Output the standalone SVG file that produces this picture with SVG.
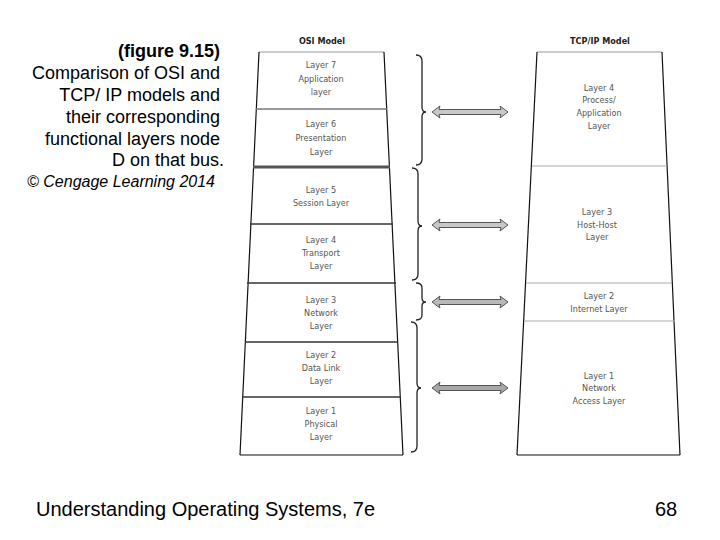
<svg xmlns="http://www.w3.org/2000/svg" width="720" height="540" viewBox="0 0 720 540">
<style>
.cap{font-family:"Liberation Sans",Arial,sans-serif;font-size:18px;fill:#000;text-anchor:end}
.copy{font-size:16px;font-style:italic}
.lay{font-family:"DejaVu Sans Condensed","DejaVu Sans",sans-serif;font-size:9px;fill:#555;text-anchor:middle}
.hd{font-family:"DejaVu Sans Condensed","DejaVu Sans",sans-serif;font-size:9px;font-weight:bold;fill:#222;text-anchor:middle}
.side{fill:none;stroke:#111;stroke-width:1.2}
.top{stroke:#999;stroke-width:1}
.div{stroke:#333;stroke-width:1.5}
.tdiv{stroke:#aaa;stroke-width:1}
.brace{fill:none;stroke:#222;stroke-width:1.3}
.arr{fill:#c8c8c8;stroke:#555;stroke-width:1}
.foot{font-family:"Liberation Sans",Arial,sans-serif;font-size:20px;fill:#000}
</style>
<rect width="720" height="540" fill="#fff"/>

<g id="caption">
<text class="cap" x="220" y="57" font-weight="bold">(figure 9.15)</text>
<text class="cap" x="220" y="79">Comparison of OSI and</text>
<text class="cap" x="220" y="101">TCP/ IP models and</text>
<text class="cap" x="220" y="123">their corresponding</text>
<text class="cap" x="220" y="145">functional layers node</text>
<text class="cap" x="224" y="166">D on that bus.</text>
<text class="cap copy" x="215" y="187">© Cengage Learning 2014</text>
</g>

<g id="osi-model">
<text class="hd" x="322" y="44">OSI Model</text>
<line class="top" x1="259" y1="52" x2="384" y2="52"/>
<line class="side" x1="259" y1="52" x2="240" y2="455"/>
<line class="side" x1="384" y1="52" x2="403" y2="455"/>
<line class="side" x1="240" y1="455" x2="403" y2="455"/>
<line x1="256" y1="109" x2="387" y2="109" stroke="#777" stroke-width="1.5"/>
<line x1="253" y1="167" x2="390" y2="167" stroke="#555" stroke-width="3"/>
<line class="div" x1="250" y1="224" x2="393" y2="224"/>
<line class="div" x1="247" y1="283" x2="396" y2="283"/>
<line class="div" x1="245" y1="342" x2="398" y2="342"/>
<line class="div" x1="242" y1="397" x2="400" y2="397"/>
</g>
<g id="osi-layer7">
<text class="lay" x="321" y="68">Layer 7</text>
<text class="lay" x="321" y="82">Application</text>
<text class="lay" x="321" y="95">layer</text>
</g>
<g id="osi-layer6">
<text class="lay" x="321" y="127">Layer 6</text>
<text class="lay" x="321" y="141">Presentation</text>
<text class="lay" x="321" y="155">Layer</text>
</g>
<g id="osi-layer5">
<text class="lay" x="321" y="193">Layer 5</text>
<text class="lay" x="321" y="206">Session Layer</text>
</g>
<g id="osi-layer4">
<text class="lay" x="321" y="243">Layer 4</text>
<text class="lay" x="321" y="256">Transport</text>
<text class="lay" x="321" y="269">Layer</text>
</g>
<g id="osi-layer3">
<text class="lay" x="321" y="303">Layer 3</text>
<text class="lay" x="321" y="316">Network</text>
<text class="lay" x="321" y="329">Layer</text>
</g>
<g id="osi-layer2">
<text class="lay" x="321" y="358">Layer 2</text>
<text class="lay" x="321" y="371">Data Link</text>
<text class="lay" x="321" y="384">Layer</text>
</g>
<g id="osi-layer1">
<text class="lay" x="321" y="414">Layer 1</text>
<text class="lay" x="321" y="427">Physical</text>
<text class="lay" x="321" y="440">Layer</text>
</g>

<g id="tcpip-model">
<text class="hd" x="600" y="44">TCP/IP Model</text>
<line class="top" x1="537" y1="52" x2="662" y2="52"/>
<line class="side" x1="537" y1="52" x2="517" y2="455"/>
<line class="side" x1="662" y1="52" x2="680" y2="455"/>
<line class="side" x1="517" y1="455" x2="680" y2="455"/>
<line class="tdiv" x1="532" y1="166" x2="667" y2="166"/>
<line class="tdiv" x1="526" y1="283" x2="672" y2="283"/>
<line class="tdiv" x1="524" y1="321" x2="675" y2="321"/>
</g>
<g id="tcpip-layer4">
<text class="lay" x="599" y="91">Layer 4</text>
<text class="lay" x="599" y="103">Process/</text>
<text class="lay" x="599" y="116">Application</text>
<text class="lay" x="599" y="129">Layer</text>
</g>
<g id="tcpip-layer3">
<text class="lay" x="597" y="215">Layer 3</text>
<text class="lay" x="597" y="228">Host-Host</text>
<text class="lay" x="597" y="240">Layer</text>
</g>
<g id="tcpip-layer2">
<text class="lay" x="599" y="299">Layer 2</text>
<text class="lay" x="599" y="312">Internet Layer</text>
</g>
<g id="tcpip-layer1">
<text class="lay" x="599" y="379">Layer 1</text>
<text class="lay" x="599" y="391">Network</text>
<text class="lay" x="599" y="404">Access Layer</text>
</g>

<g id="connectors">
<path class="brace" d="M416,55 Q422,55 422,61 L422,107 Q422,112 426,112 Q422,112 422,117 L422,159 Q422,165 416,165"/>
<path class="brace" d="M412,168 Q418,168 418,174 L418,221 Q418,226 422,226 Q418,226 418,231 L418,274 Q418,280 412,280"/>
<path class="brace" d="M416,283 Q422,283 422,288 L422,298 Q422,302 426,302 Q422,302 422,306 L422,315 Q422,320 416,320"/>
<path class="brace" d="M411,322 Q417,322 417,328 L417,383 Q417,388 421,388 Q417,388 417,393 L417,446 Q417,452 411,452"/>
<path class="arr" d="M432,112 L440,106 L439,109.5 L501,109.5 L500,106 L508,112 L500,118 L501,114.5 L439,114.5 L440,118 Z"/>
<path class="arr" d="M432,225 L440,219 L439,222.5 L501,222.5 L500,219 L508,225 L500,231 L501,227.5 L439,227.5 L440,231 Z"/>
<path class="arr" d="M432,302 L440,296 L439,299.5 L501,299.5 L500,296 L508,302 L500,308 L501,304.5 L439,304.5 L440,308 Z" style="fill:#b8b8b8"/>
<path class="arr" d="M432,388 L440,382 L439,385.5 L501,385.5 L500,382 L508,388 L500,394 L501,390.5 L439,390.5 L440,394 Z" style="fill:#a8a8a8"/>
</g>

<g id="footer">
<text class="foot" x="36" y="516">Understanding Operating Systems, 7e</text>
<text class="foot" x="655" y="516">68</text>
</g>
</svg>
